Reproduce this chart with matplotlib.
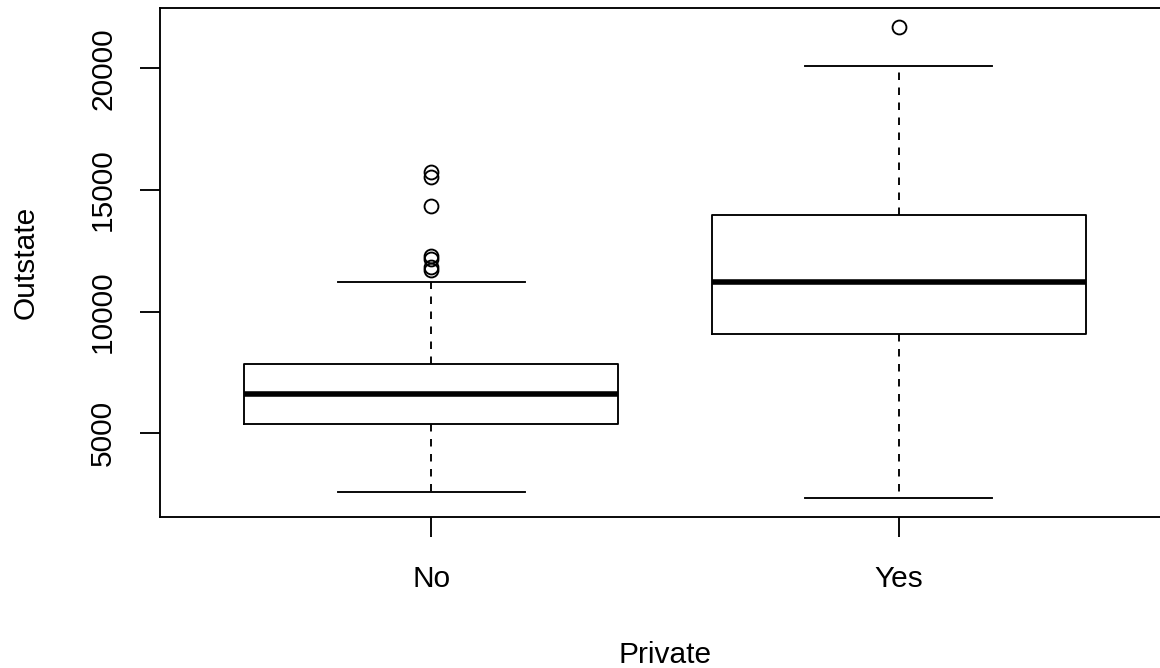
import matplotlib.pyplot as plt
import numpy as np

plt.rcParams['font.family'] = ['Liberation Sans', 'DejaVu Sans']

# Data
groups = ["No", "Yes"]
lower_whisker = [2580, 2340]
q1 = [5366, 9100]
median = [6609, 11200]
q3 = [7844, 13970]
upper_whisker = [11200, 20100]
outliers = [[15732, 15516, 14340, 12300, 12150, 11850, 11700], [21700]]
y_ticks = [5000, 10000, 15000, 20000]

stats = [dict(label=g, whislo=lo, q1=a, med=m, q3=b, whishi=hi, fliers=f)
         for g, lo, a, m, b, hi, f in zip(groups, lower_whisker, q1, median,
                                          q3, upper_whisker, outliers)]

fig = plt.figure(figsize=(11.6, 6.68), dpi=100)
ax = fig.add_axes([160 / 1160, 151 / 668, 1010 / 1160, 509 / 668])

lw = 1.35
fs = 21.5
pos = np.arange(1, len(groups) + 1)
ax.bxp(stats, positions=pos, widths=0.8, capwidths=0.4,
       boxprops=dict(color="black", linewidth=lw),
       medianprops=dict(color="black", linewidth=4, solid_capstyle="butt"),
       whiskerprops=dict(color="black", linewidth=lw, linestyle=(0, (4, 4))),
       capprops=dict(color="black", linewidth=lw),
       flierprops=dict(marker="o", markerfacecolor="none",
                       markeredgecolor="black", markersize=10,
                       markeredgewidth=lw))

# R style axis ranges (4% extension)
allv = lower_whisker + upper_whisker + [v for f in outliers for v in f]
lo, hi = min(allv), max(allv)
ext = 0.04 * (hi - lo)
ax.set_ylim(lo - ext, hi + ext)
ax.set_xlim(0.5 - 0.08, len(groups) + 0.5 + 0.08)

ax.set_xticks(pos)
ax.set_xticklabels(groups, fontsize=fs)
ax.set_yticks(y_ticks)
ax.set_yticklabels([str(t) for t in y_ticks], fontsize=fs,
                   rotation=90, va="center")
ax.tick_params(direction="out", length=14.4, width=lw, pad=16.5,
               top=False, right=False)
ax.tick_params(axis="x", pad=20)

for s in ax.spines.values():
    s.set_linewidth(lw)

ax.set_xlabel("Private", fontsize=fs)
ax.xaxis.label.set_va("baseline")
ax.xaxis.set_label_coords(0.5, (5 - 151) / 509)
ax.set_ylabel("Outstate", fontsize=fs)
ax.yaxis.label.set_va("baseline")
ax.yaxis.set_label_coords((34 - 160) / 1010, 0.5)

fig.savefig("out.png", dpi=100)
